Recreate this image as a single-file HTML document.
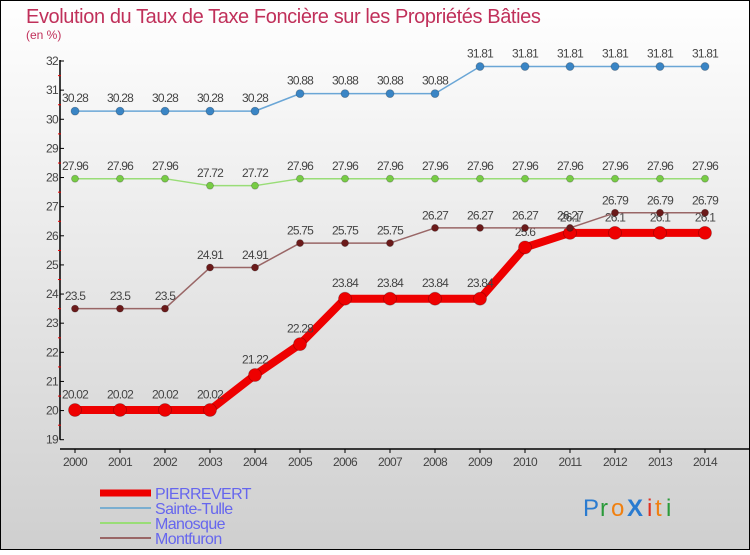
<!DOCTYPE html>
<html><head><meta charset="utf-8">
<style>
html,body{margin:0;padding:0}
body{width:750px;height:550px;overflow:hidden;font-family:"Liberation Sans",sans-serif}
svg text{font-family:"Liberation Sans",sans-serif}
</style></head>
<body>
<svg id="chart" width="750" height="550" viewBox="0 0 750 550" xmlns="http://www.w3.org/2000/svg">
<defs>
<linearGradient id="bg" x1="0" y1="0" x2="0" y2="1">
<stop offset="0" stop-color="#ffffff"/><stop offset="1" stop-color="#cfcfcf"/>
</linearGradient>
</defs>
<rect x="0.5" y="0.5" width="749" height="549" fill="url(#bg)" stroke="#000"/>
<text x="26" y="23" font-size="20" fill="#c0305a" letter-spacing="-0.4">Evolution du Taux de Taxe Foncière sur les Propriétés Bâties</text>
<text x="26" y="39" font-size="12" fill="#c0305a">(en %)</text>
<g id="axes"></g>
<g id="series"></g>
<g id="legend">
<line x1="100" y1="493" x2="151" y2="493" stroke="#ee0000" stroke-width="7"/>
<text x="155" y="499" font-size="16" fill="#6666ee" letter-spacing="-0.6">PIERREVERT</text>
<line x1="100" y1="508" x2="151" y2="508" stroke="#7aaed0" stroke-width="2"/>
<text x="155" y="514" font-size="16" fill="#6666ee" letter-spacing="-0.6">Sainte-Tulle</text>
<line x1="100" y1="523" x2="151" y2="523" stroke="#99dd77" stroke-width="2"/>
<text x="155" y="529" font-size="16" fill="#6666ee" letter-spacing="-0.6">Manosque</text>
<line x1="100" y1="538" x2="151" y2="538" stroke="#996666" stroke-width="2"/>
<text x="155" y="544" font-size="16" fill="#6666ee" letter-spacing="-0.6">Montfuron</text>
</g>
<g font-size="24">
<text x="583" y="516" fill="#2a7bd0">P</text><text x="600" y="516" fill="#2a9a3a">r</text><text x="611" y="516" fill="#f08010">o</text><text x="627" y="516" fill="#2a7bd0" font-weight="bold">X</text><text x="647" y="516" fill="#e03020">i</text><text x="655" y="516" fill="#f08010">t</text><text x="666" y="516" fill="#2a9a3a">i</text>
</g>
</svg>
<script>
var years = [2000,2001,2002,2003,2004,2005,2006,2007,2008,2009,2010,2011,2012,2013,2014];
var yTicks = [19,20,21,22,23,24,25,26,27,28,29,30,31,32];
var pierrevert = [20.02,20.02,20.02,20.02,21.22,22.28,23.84,23.84,23.84,23.84,25.6,26.1,26.1,26.1,26.1];
var sainteTulle = [30.28,30.28,30.28,30.28,30.28,30.88,30.88,30.88,30.88,31.81,31.81,31.81,31.81,31.81,31.81];
var manosque = [27.96,27.96,27.96,27.72,27.72,27.96,27.96,27.96,27.96,27.96,27.96,27.96,27.96,27.96,27.96];
var montfuron = [23.5,23.5,23.5,24.91,24.91,25.75,25.75,25.75,26.27,26.27,26.27,26.27,26.79,26.79,26.79];

var NS = "http://www.w3.org/2000/svg";
function xPos(i){ return 75 + i*45; }
function yPos(v){ return 439.7 - (v-19)*29.13; }
function mk(tag, attrs, parent){ var e=document.createElementNS(NS,tag); for(var k in attrs) e.setAttribute(k,attrs[k]); parent.appendChild(e); return e; }
function fmt(v){ return String(v); }

var axes = document.getElementById('axes');
var yl = mk('line',{x1:60,y1:yPos(32)-1,x2:60,y2:yPos(19),stroke:'#000','stroke-width':1.5},axes);


var xl = mk('line',{x1:60,y1:449,x2:749,y2:449,stroke:'#000','stroke-width':1.5},axes);


yTicks.forEach(function(t){
  var y=yPos(t);
  var tk = mk('line',{x1:60,y1:y,x2:64,y2:y,stroke:'#000'},axes);
  
  
  if(t<32){ var mt = mk('line',{x1:58,y1:y-14.5,x2:61,y2:y-14.5,stroke:'#e00'},axes);
    
     }
  var tx = mk('text',{x:58,y:y+4,'font-size':12,fill:'#444','text-anchor':'end','letter-spacing':-0.7},axes);
  tx.textContent=t;
  
  
});
years.forEach(function(yr,i){
  var x=xPos(i);
  var tk = mk('line',{x1:x,y1:449,x2:x,y2:453,stroke:'#000'},axes);
  
  
  var tx = mk('text',{x:x,y:466,'font-size':12,fill:'#444','text-anchor':'middle','letter-spacing':-0.7},axes);
  tx.textContent=yr;
  
  
});

var seriesG = document.getElementById('series');
function drawSeries(vals, name, color, width, dotColor, r){
  var g = mk('g',{},seriesG);
  
  
  var pts = vals.map(function(v,i){ return xPos(i)+','+yPos(v); }).join(' ');
  var pl = mk('polyline',{points:pts,fill:'none',stroke:color,'stroke-width':width,'stroke-linejoin':'round'},g);
  
  
  vals.forEach(function(v,i){
    var c = mk('circle',{cx:xPos(i),cy:yPos(v),r:r,fill:dotColor,stroke:'rgba(0,0,0,0.25)','stroke-width':0.8},g);
    
    
    var t = mk('text',{x:xPos(i),y:yPos(v)-(r+5),'font-size':12,fill:'#444','text-anchor':'middle','letter-spacing':-0.8},g);
    t.textContent=fmt(v);
    
    
  });
}
drawSeries(sainteTulle,'sainte-tulle','#6aa6d6',1.5,'#3a85c5',4);
drawSeries(manosque,'manosque','#99dd77',1.5,'#77cc44',3.5);
drawSeries(pierrevert,'pierrevert','#ee0000',8,'#ee0000',6.5);
drawSeries(montfuron,'montfuron','#996666',1.5,'#6b1a1a',3.5);
</script>
</body></html>
